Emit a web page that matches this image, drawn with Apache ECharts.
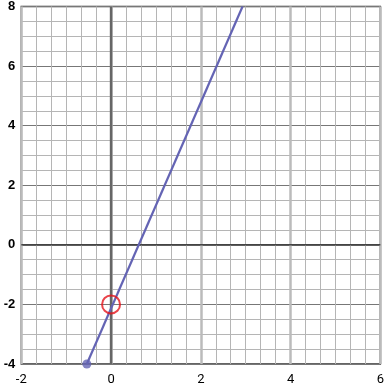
<!DOCTYPE html>
<html><head><meta charset="utf-8">
<script src="https://cdn.jsdelivr.net/npm/echarts@6/dist/echarts.min.js"></script>
<style>html,body{margin:0;padding:0;background:#fff}#c{width:387px;height:386px}</style>
</head><body><div id="c"></div>
<script>
const xRange = [-2, 6];
const yRange = [-4, 8];
const lineX = [-0.54, 2.93];
const lineY = [-4, 8];
const closedPoint = [-0.54, -4];
const openPoint = [0, -2];

const chart = echarts.init(document.getElementById('c'), null, {renderer: 'canvas'});
chart.setOption({
  animation: false,
  grid: {left: 21.3, right: 5.3, top: 5.7, bottom: 20, show: true, borderColor: '#333', borderWidth: 1.5, containLabel: false},
  xAxis: {
    type: 'value', min: xRange[0], max: xRange[1], interval: 2,
    axisLine: {show: false}, axisTick: {show: false},
    axisLabel: {margin: 9, fontSize: 13, color: '#000', fontFamily: 'Roboto'},
    splitLine: {show: true, lineStyle: {color: '#bbb', width: 2.5}},
    minorTick: {show: false, splitNumber: 6},
    minorSplitLine: {show: true, lineStyle: {color: '#b5b5b5', width: 1}}
  },
  yAxis: {
    type: 'value', min: yRange[0], max: yRange[1], interval: 2,
    axisLine: {show: false}, axisTick: {show: false},
    axisLabel: {margin: 6, fontSize: 13, color: '#000', fontWeight: 'bold', fontFamily: 'Liberation Sans'},
    splitLine: {show: true, lineStyle: {color: '#777', width: 1}},
    minorTick: {show: false, splitNumber: 4},
    minorSplitLine: {show: true, lineStyle: {color: '#b5b5b5', width: 1}}
  },
  series: [
    {
      type: 'line', data: [[0, yRange[0]], [0, yRange[1]]], symbol: 'none',
      lineStyle: {color: '#666', width: 2.5}, silent: true, z: 1
    },
    {
      type: 'line', data: [[xRange[0], 0], [xRange[1], 0]], symbol: 'none',
      lineStyle: {color: '#444', width: 1.5}, silent: true, z: 1
    },
    {
      type: 'line', data: lineX.map((x, i) => [x, lineY[i]]), symbol: 'none',
      lineStyle: {color: '#6464b4', width: 2.2}, z: 3
    },
    {
      type: 'scatter', data: [closedPoint], symbol: 'circle', symbolSize: 9,
      itemStyle: {color: '#6464b4'}, z: 4
    },
    {
      type: 'scatter', data: [openPoint], symbol: 'circle', symbolSize: 18,
      itemStyle: {color: 'rgba(0,0,0,0)', borderColor: '#e5141b', borderWidth: 2}, z: 5
    }
  ]
});
</script></body></html>
